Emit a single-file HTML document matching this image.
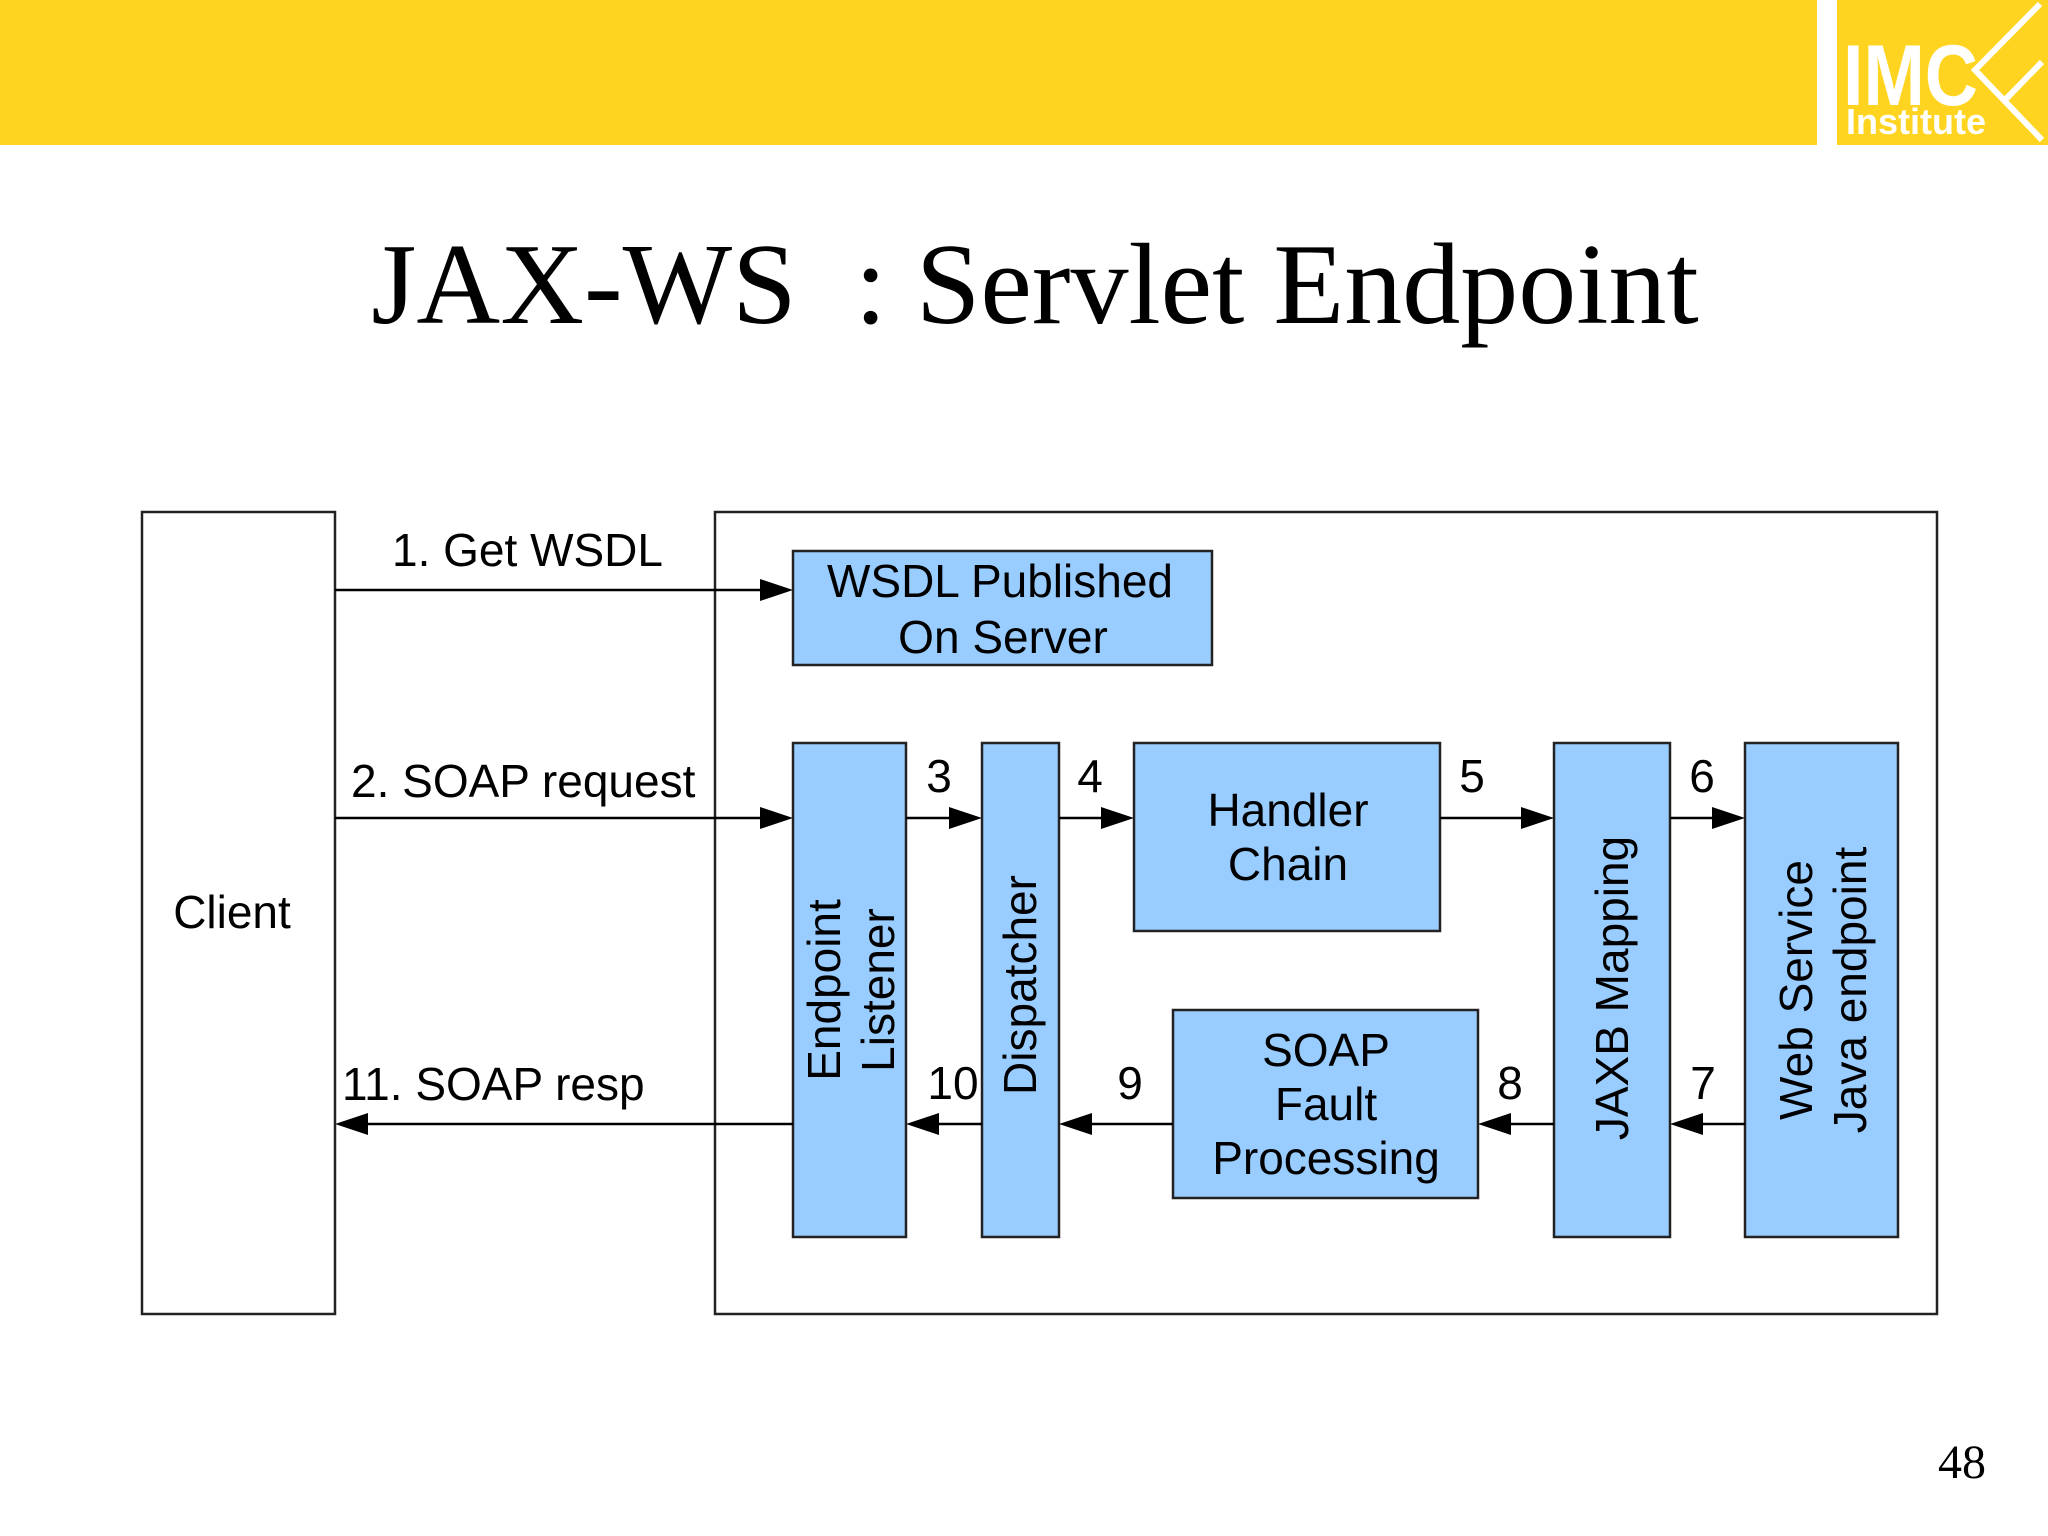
<!DOCTYPE html>
<html><head><meta charset="utf-8"><style>
html,body{margin:0;padding:0;background:#fff;}
svg{display:block;}
</style></head><body>
<svg width="2048" height="1536" viewBox="0 0 2048 1536" xmlns="http://www.w3.org/2000/svg">
<rect x="0" y="0" width="1817" height="145" fill="#FFD420"/>
<rect x="1837" y="0" width="211" height="145" fill="#FFD420"/>
<text x="1843" y="105" font-family="Liberation Sans, sans-serif" font-weight="bold" font-size="86" fill="#fff" textLength="135" lengthAdjust="spacingAndGlyphs">IMC</text>
<text x="1846" y="134" font-family="Liberation Sans, sans-serif" font-weight="bold" font-size="36" fill="#fff">Institute</text>
<polyline points="2040,4 1975,70 2042,140" fill="none" stroke="#fff" stroke-width="6"/>
<line x1="2005" y1="100" x2="2042" y2="62" stroke="#fff" stroke-width="6"/>

<text x="1035" y="323" text-anchor="middle" font-family="Liberation Serif, serif" font-size="116" fill="#000">JAX-WS&#160;&#160;: Servlet Endpoint</text>

<g stroke="#222" stroke-width="2.5" fill="none">
<rect x="142" y="512" width="193" height="802"/>
<rect x="715" y="512" width="1222" height="802"/>
</g>
<g stroke="#222" stroke-width="2.5" fill="#99CCFF">
<rect x="793" y="551" width="419" height="114"/>
<rect x="793" y="743" width="113" height="494"/>
<rect x="982" y="743" width="77" height="494"/>
<rect x="1134" y="743" width="306" height="188"/>
<rect x="1173" y="1010" width="305" height="188"/>
<rect x="1554" y="743" width="116" height="494"/>
<rect x="1745" y="743" width="153" height="494"/>
</g>

<g stroke="#000" stroke-width="2.5">
<line x1="335" y1="590" x2="770" y2="590"/>
<line x1="335" y1="818" x2="770" y2="818"/>
<line x1="906" y1="818" x2="960" y2="818"/>
<line x1="1059" y1="818" x2="1112" y2="818"/>
<line x1="1440" y1="818" x2="1532" y2="818"/>
<line x1="1670" y1="818" x2="1723" y2="818"/>
<line x1="360" y1="1124" x2="793" y2="1124"/>
<line x1="928" y1="1124" x2="982" y2="1124"/>
<line x1="1081" y1="1124" x2="1173" y2="1124"/>
<line x1="1500" y1="1124" x2="1554" y2="1124"/>
<line x1="1692" y1="1124" x2="1745" y2="1124"/>
</g>
<g fill="#000">
<polygon points="793,590 760,579 760,601"/>
<polygon points="793,818 760,807 760,829"/>
<polygon points="982,818 949,807 949,829"/>
<polygon points="1134,818 1101,807 1101,829"/>
<polygon points="1554,818 1521,807 1521,829"/>
<polygon points="1745,818 1712,807 1712,829"/>
<polygon points="335,1124 368,1113 368,1135"/>
<polygon points="906,1124 939,1113 939,1135"/>
<polygon points="1059,1124 1092,1113 1092,1135"/>
<polygon points="1478,1124 1511,1113 1511,1135"/>
<polygon points="1670,1124 1703,1113 1703,1135"/>
</g>

<g font-family="Liberation Sans, sans-serif" font-size="46" fill="#000">
<text x="392" y="566">1. Get WSDL</text>
<text x="351" y="797">2. SOAP request</text>
<text x="342" y="1100">11. SOAP resp</text>
<text x="232" y="928" text-anchor="middle">Client</text>
<text x="1000" y="597" text-anchor="middle">WSDL Published</text>
<text x="1003" y="653" text-anchor="middle">On Server</text>
<text x="1288" y="826" text-anchor="middle">Handler</text>
<text x="1288" y="880" text-anchor="middle">Chain</text>
<text x="1326" y="1066" text-anchor="middle">SOAP</text>
<text x="1326" y="1120" text-anchor="middle">Fault</text>
<text x="1326" y="1174" text-anchor="middle">Processing</text>
<text x="939" y="792" text-anchor="middle">3</text>
<text x="1090" y="792" text-anchor="middle">4</text>
<text x="1472" y="792" text-anchor="middle">5</text>
<text x="1702" y="792" text-anchor="middle">6</text>
<text x="953" y="1099" text-anchor="middle">10</text>
<text x="1130" y="1099" text-anchor="middle">9</text>
<text x="1510" y="1099" text-anchor="middle">8</text>
<text x="1703" y="1099" text-anchor="middle">7</text>
<text transform="translate(840,990) rotate(-90)" text-anchor="middle">Endpoint</text>
<text transform="translate(894,990) rotate(-90)" text-anchor="middle">Listener</text>
<text transform="translate(1036,985) rotate(-90)" text-anchor="middle">Dispatcher</text>
<text transform="translate(1628,988) rotate(-90)" text-anchor="middle">JAXB Mapping</text>
<text transform="translate(1812,990) rotate(-90)" text-anchor="middle">Web Service</text>
<text transform="translate(1866,990) rotate(-90)" text-anchor="middle">Java endpoint</text>
</g>
<text x="1962" y="1478" text-anchor="middle" font-family="Liberation Serif, serif" font-size="48" fill="#000">48</text>
</svg>
</body></html>
